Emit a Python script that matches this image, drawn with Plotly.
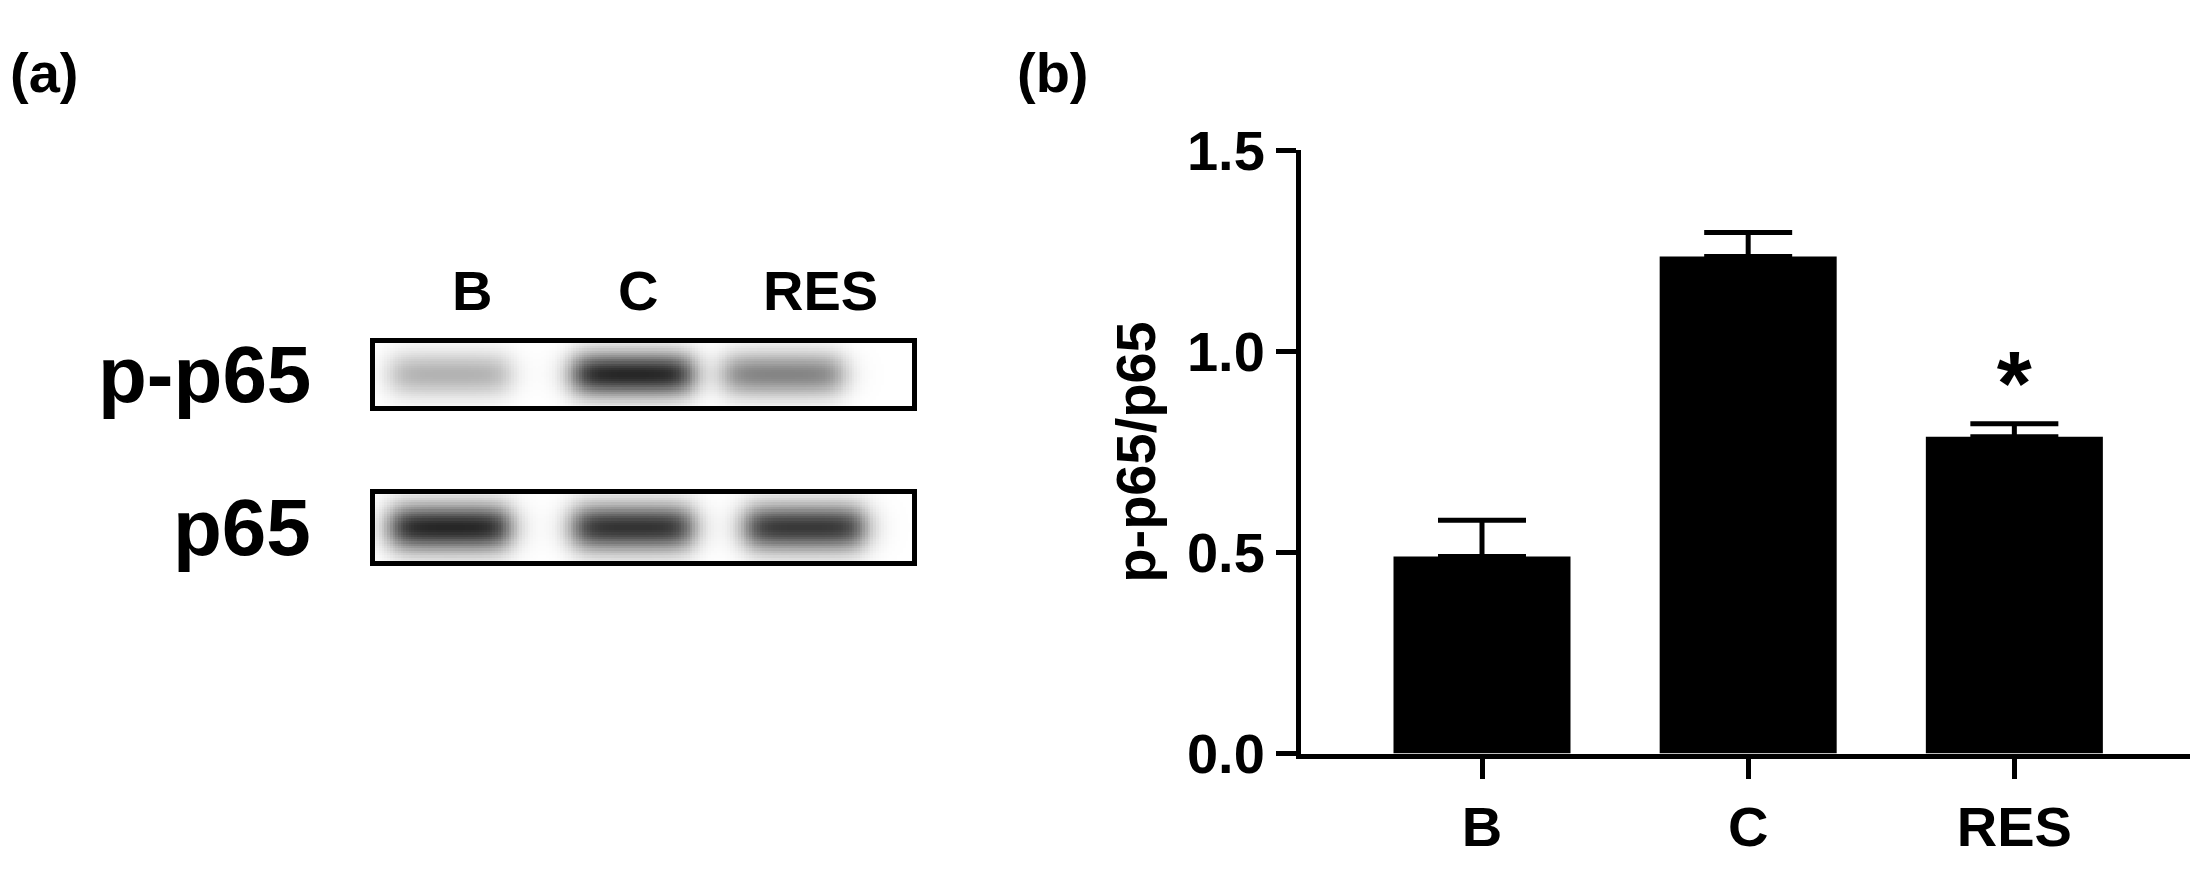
import numpy as np
import plotly.graph_objects as go

# bar chart data
groups = ['B', 'C', 'RES']
ratio_mean = [0.49, 1.236, 0.788]
ratio_err = [0.09, 0.06, 0.032]
sig_marks = ['', '', '<b>*</b>']

# western blot band intensities (0 = white, 1 = black)
blot_rows = ['p-p65', 'p65']
blot_intensity = {'p-p65': [0.3, 0.85, 0.48], 'p65': [0.85, 0.8, 0.78]}
lane_pos = {'p-p65': [0.14, 0.48, 0.76], 'p65': [0.14, 0.48, 0.80]}
lane_label_pos = [0.18, 0.49, 0.83]

W, H = 2198, 876
FONT = 'Liberation Sans'

fig = go.Figure()

fig.add_trace(go.Bar(
    x=groups, y=ratio_mean, width=0.665,
    marker=dict(color='black', line=dict(width=0)),
    error_y=dict(type='data', array=ratio_err, symmetric=False, arrayminus=[0, 0, 0],
                 color='black', thickness=5, width=44),
    text=sig_marks, textposition='outside', textfont=dict(size=90, color='black', family=FONT),
    cliponaxis=False, showlegend=False,
))


def band_image(levels, centers):
    # simple blurry band per lane for the blot picture
    xs = np.linspace(0, 1, 200)
    ys = np.linspace(-1, 1, 30)
    z = np.zeros((len(ys), len(xs)))
    for c, lv in zip(centers, levels):
        prof_x = 1 / (1 + np.exp(-(xs - (c - 0.11)) * 70)) * (1 - 1 / (1 + np.exp(-(xs - (c + 0.11)) * 70)))
        prof_y = np.exp(-(ys / 0.7) ** 2)
        z += lv * np.outer(prof_y, prof_x)
    return xs, ys, np.clip(z, 0, 1)


blot_domains = {'p-p65': [0.549, 0.626], 'p65': [0.358, 0.440]}
for i, row in enumerate(blot_rows):
    xs, ys, z = band_image(blot_intensity[row], lane_pos[row])
    ax = i + 2
    fig.add_trace(go.Heatmap(x=xs, y=ys, z=z, zmin=0, zmax=1, showscale=False, hoverinfo='skip',
                             colorscale=[[0, 'white'], [1, 'black']], xaxis=f'x{ax}', yaxis=f'y{ax}'))
    fig.update_layout({
        f'xaxis{ax}': dict(domain=[367 / W, 904 / W], range=[0, 1], showticklabels=False, ticks='',
                           showgrid=False, zeroline=False, showline=True, mirror=True, linewidth=5,
                           linecolor='black', anchor=f'y{ax}'),
        f'yaxis{ax}': dict(domain=blot_domains[row], range=[-1, 1], showticklabels=False, ticks='',
                           showgrid=False, zeroline=False, showline=True, mirror=True, linewidth=5,
                           linecolor='black', anchor=f'x{ax}'),
    })
    fig.add_annotation(text=f'<b>{row}</b>', xref='paper', yref='paper', x=305 / W,
                       y=sum(blot_domains[row]) / 2, xanchor='right', yanchor='middle',
                       showarrow=False, font=dict(size=80, family=FONT, color='black'))

for g, p in zip(groups, lane_label_pos):
    fig.add_annotation(text=f'<b>{g}</b>', xref='paper', yref='paper', x=(367 + p * 537) / W,
                       y=(H - 271) / H, xanchor='center', yanchor='middle', showarrow=False,
                       font=dict(size=56, family=FONT, color='black'))

fig.add_annotation(text='<b>(a)</b>', xref='paper', yref='paper', x=0.0, y=1.0, xanchor='left',
                   yanchor='top', showarrow=False, font=dict(size=56, family=FONT, color='black'))
fig.add_annotation(text='<b>(b)</b>', xref='paper', yref='paper', x=1007 / W, y=1.0, xanchor='left',
                   yanchor='top', showarrow=False, font=dict(size=56, family=FONT, color='black'))

fig.update_layout(
    width=W, height=H, margin=dict(l=0, r=0, t=0, b=0),
    plot_bgcolor='white', paper_bgcolor='white', font=dict(family=FONT, color='black'),
    xaxis=dict(domain=[1293 / W, 1.0], range=[-0.68, 2.72], showline=True, linewidth=5, linecolor='black',
               ticks='outside', ticklen=20, tickwidth=5, tickcolor='black', showgrid=False, zeroline=False,
               tickfont=dict(size=56), tickprefix='<b>', ticksuffix='</b>'),
    yaxis=dict(domain=[106 / H, 756 / H], range=[0, 1.5], tickvals=[0, 0.5, 1.0, 1.5],
               ticktext=['<b>0.0</b>', '<b>0.5</b>', '<b>1.0</b>', '<b>1.5</b>'],
               showline=True, linewidth=5, linecolor='black', ticks='outside', ticklen=20, tickwidth=5,
               tickcolor='black', showgrid=False, zeroline=False, tickfont=dict(size=56),
               title=dict(text='<b>p-p65/p65</b>', font=dict(size=56), standoff=15)),
)

fig.write_html('out.html')
